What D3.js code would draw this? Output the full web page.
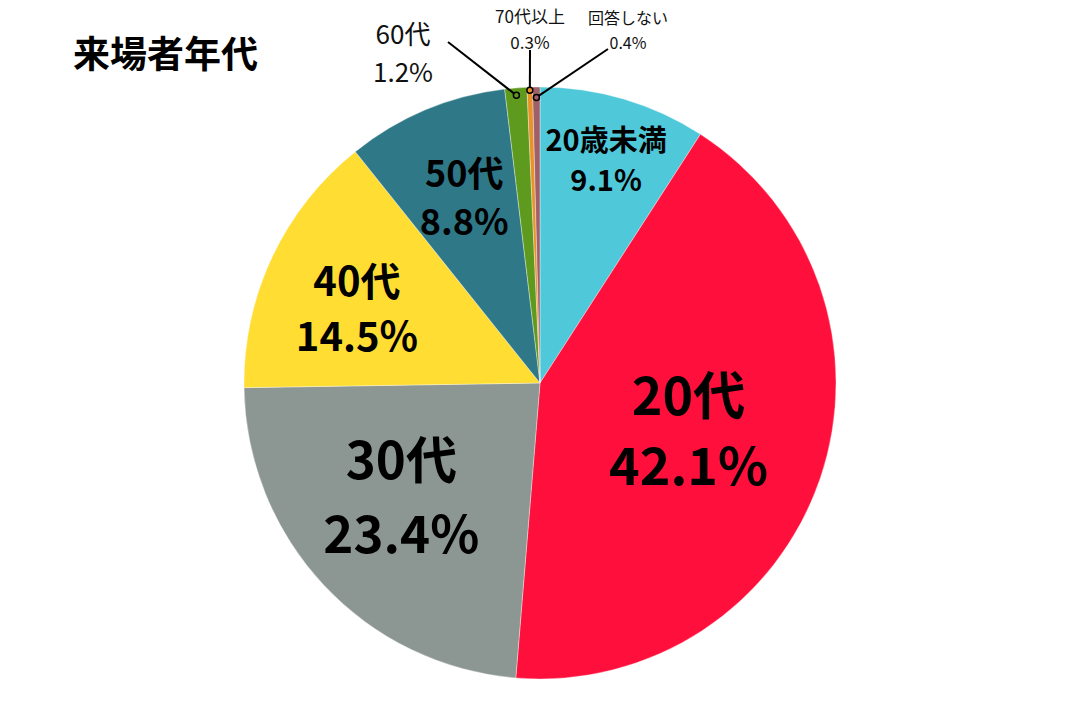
<!DOCTYPE html>
<html><head><meta charset="utf-8">
<script src="https://cdn.jsdelivr.net/npm/d3@7"></script>
<style>html,body{margin:0;padding:0;background:#fff;}svg{display:block;font-family:"Noto Sans CJK JP","Noto Sans",sans-serif;}</style>
</head><body>
<script>
const title = "来場者年代";
const categories = ["20歳未満","20代","30代","40代","50代","60代","70代以上","回答しない"];
const values = [9.1, 42.1, 23.4, 14.5, 8.8, 1.2, 0.3, 0.4];
const valueLabels = ["9.1%","42.1%","23.4%","14.5%","8.8%","1.2%","0.3%","0.4%"];
const colors = ["#4FC8DA","#FF0F3B","#8C9693","#FFDD33","#2F7887","#5E9A1E","#E8922A","#A0606A"];

// layout (inside labels: radius fraction, offsets, font size); outside labels: anchor, marker radius fraction
const inside = {0:{rf:0.79,dx:0,dy:-1,fs:29,gap:40},1:{rf:0.53,dx:0,dy:-6,fs:52,gap:70},2:{rf:0.60,dx:-9,dy:-10,fs:51,gap:74},
                3:{rf:0.665,dx:-5,dy:7,fs:40,gap:55},4:{rf:0.68,dx:2,dy:-2,fs:36,gap:48}};
const outside = {5:{mf:0.975,tx:403,ty:32,fs:26,gap:38,lx:448,ly:42},
                 6:{mf:0.99,tx:530,ty:15,fs:17,gap:26,lx:530,ly:50},
                 7:{mf:0.965,tx:628,ty:17,fs:16,gap:25,lx:608,ly:49}};

const W=1080,H=720,cx=540,cy=383,R=296;
const svg=d3.select("body").append("svg").attr("width",W).attr("height",H);
svg.append("text").attr("x",73).attr("y",52).attr("dominant-baseline","central")
  .attr("font-size",37).attr("font-weight",700).text(title);

const data=categories.map((c,i)=>({c,v:values[i],i}));
const pie=d3.pie().sort(null).value(d=>d.v);
const arcs=pie(data);
const arc=d3.arc().innerRadius(0).outerRadius(R);
const g=svg.append("g").attr("transform",`translate(${cx},${cy})`);
g.selectAll("path").data(arcs).join("path").attr("d",arc)
  .attr("fill",d=>colors[d.data.i]).attr("stroke","#ffffff").attr("stroke-width",0.6).attr("stroke-opacity",0.6);

arcs.forEach(a=>{
  const i=a.data.i; const mid=(a.startAngle+a.endAngle)/2;
  if(inside[i]){
    const L=inside[i]; const r=R*L.rf;
    const x=cx+Math.sin(mid)*r+L.dx, y=cy-Math.cos(mid)*r+L.dy;
    svg.append("text").attr("x",x).attr("y",y-L.gap/2).attr("text-anchor","middle").attr("dominant-baseline","central")
      .attr("font-size",L.fs).attr("font-weight",700).text(categories[i]);
    svg.append("text").attr("x",x).attr("y",y+L.gap/2).attr("text-anchor","middle").attr("dominant-baseline","central")
      .attr("font-size",L.fs).attr("font-weight",700).text(valueLabels[i]);
  } else {
    const L=outside[i]; const r=R*L.mf;
    const mx=cx+Math.sin(mid)*r, my=cy-Math.cos(mid)*r;
    svg.append("line").attr("x1",L.lx).attr("y1",L.ly).attr("x2",mx).attr("y2",my).attr("stroke","#000").attr("stroke-width",2);
    svg.append("circle").attr("cx",mx).attr("cy",my).attr("r",3).attr("fill",colors[i]).attr("stroke","#000").attr("stroke-width",1.5);
    svg.append("text").attr("x",L.tx).attr("y",L.ty).attr("text-anchor","middle").attr("dominant-baseline","central")
      .attr("font-size",L.fs).attr("fill","#111").text(categories[i]);
    svg.append("text").attr("x",L.tx).attr("y",L.ty+L.gap).attr("text-anchor","middle").attr("dominant-baseline","central")
      .attr("font-size",L.fs).attr("fill","#111").text(valueLabels[i]);
  }
});
</script>
</body></html>
